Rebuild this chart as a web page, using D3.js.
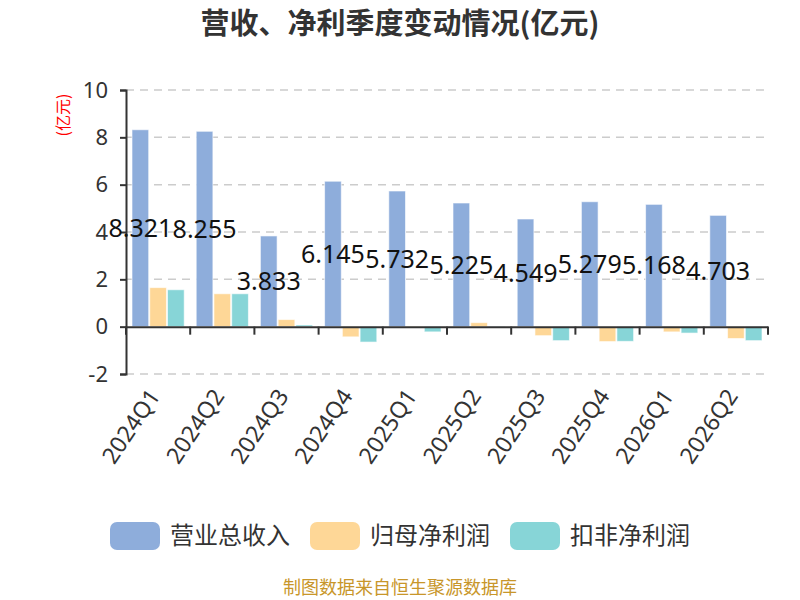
<!DOCTYPE html>
<html>
<head>
<meta charset="utf-8">
<script src="https://cdn.jsdelivr.net/npm/d3@7"></script>
<style>
  body { margin: 0; background: #fff; }
  text { font-family: "Noto Sans CJK SC", "Noto Sans", sans-serif; }
</style>
</head>
<body>
<div id="chart"></div>
<script>
// data
const quarters = ["2024Q1", "2024Q2", "2024Q3", "2024Q4", "2025Q1", "2025Q2", "2025Q3", "2025Q4", "2026Q1", "2026Q2"];
const revenue = [8.321, 8.255, 3.833, 6.145, 5.732, 5.225, 4.549, 5.279, 5.168, 4.703];
const netProfit = [1.65, 1.39, 0.30, -0.43, -0.02, 0.17, -0.38, -0.63, -0.22, -0.50];
const netProfitExcl = [1.56, 1.39, 0.07, -0.65, -0.22, -0.03, -0.59, -0.62, -0.27, -0.59];
const seriesNames = ["营业总收入", "归母净利润", "扣非净利润"];
const colors = ["#8eaddb", "#fed797", "#87d5d7"];
const yTicks = [-2, 0, 2, 4, 6, 8, 10];

const W = 800, H = 600;
const margin = {top: 90, right: 32, bottom: 226, left: 126};
const width = W - margin.left - margin.right,
    height = H - margin.top - margin.bottom;

const svg = d3.select("#chart")
  .append("svg")
  .attr("width", W)
  .attr("height", H);

const g = svg.append("g")
  .attr("transform", `translate(${margin.left},${margin.top})`);

// Title
svg.append("text")
  .attr("x", W / 2)
  .attr("y", 34)
  .attr("text-anchor", "middle")
  .style("font-size", "29px")
  .style("font-weight", "bold")
  .style("fill", "#333")
  .text("营收、净利季度变动情况(亿元)");

// Scales
const x = d3.scaleBand().domain(quarters).range([0, width]);
const inner = d3.scaleBand().domain(d3.range(3)).range([6, x.bandwidth() - 6]).paddingInner(0.06);
const y = d3.scaleLinear().domain([-2, 10]).range([height, 0]);

// Grid
g.append("g")
  .selectAll("line")
  .data(yTicks.filter(d => d !== 0))
  .join("line")
    .attr("x1", 0)
    .attr("x2", width)
    .attr("y1", d => y(d))
    .attr("y2", d => y(d))
    .attr("stroke", "#ccc")
    .attr("stroke-width", 1.5)
    .attr("stroke-dasharray", "8,6");

// Y axis (plain hyphen for the minus sign)
const yAxis = g.append("g")
  .call(d3.axisLeft(y).tickValues(yTicks).tickFormat(d => String(d)).tickSize(6).tickPadding(12));
yAxis.select(".domain").attr("stroke", "#333").attr("stroke-width", 2);
yAxis.selectAll(".tick line").attr("stroke", "#333").attr("stroke-width", 2);
yAxis.selectAll(".tick text")
  .style("font-size", "22px")
  .style("fill", "#333")
  .style("font-family", "'Noto Sans', sans-serif");

// Y axis name
svg.append("text")
  .attr("transform", `translate(69,115) rotate(-90)`)
  .attr("text-anchor", "middle")
  .style("font-size", "16px")
  .style("fill", "red")
  .text("(亿元)");

// Bars
const table = quarters.map((q, i) => ({q: q, vals: [revenue[i], netProfit[i], netProfitExcl[i]]}));

const groups = g.append("g")
  .selectAll("g")
  .data(table)
  .join("g")
    .attr("transform", d => `translate(${x(d.q)},0)`);

groups.selectAll("rect")
  .data(d => d.vals)
  .join("rect")
    .attr("x", (d, i) => inner(i))
    .attr("width", inner.bandwidth())
    .attr("y", d => y(Math.max(0, d)))
    .attr("height", d => Math.abs(y(d) - y(0)))
    .attr("fill", (d, i) => colors[i])
    .attr("stroke", "rgba(255,255,255,0.6)")
    .attr("stroke-width", 1);

// X axis at zero
const xAxis = g.append("g")
  .attr("transform", `translate(0,${y(0)})`)
  .call(d3.axisBottom(x).tickSize(0).tickFormat(""));
xAxis.select(".domain").attr("stroke", "#333").attr("stroke-width", 2);

g.append("g")
  .selectAll("line")
  .data(d3.range(quarters.length + 1))
  .join("line")
    .attr("x1", i => i * x.step())
    .attr("x2", i => i * x.step())
    .attr("y1", y(0))
    .attr("y2", y(0) + 8)
    .attr("stroke", "#333")
    .attr("stroke-width", 2);

// X labels (rotated)
g.append("g")
  .selectAll("text")
  .data(quarters)
  .join("text")
    .attr("transform", d => `translate(${x(d) + x.bandwidth() / 2 + 3},${height + 22}) rotate(-56)`)
    .attr("text-anchor", "end")
    .style("font-size", "23px")
    .style("fill", "#333")
    .style("font-family", "'Noto Sans', sans-serif")
    .text(d => d);

// Revenue value labels, centred in the bar
groups.append("text")
  .attr("x", inner(0) + inner.bandwidth() / 2)
  .attr("y", d => y(d.vals[0] / 2))
  .attr("dy", "0.35em")
  .attr("text-anchor", "middle")
  .style("font-size", "25px")
  .style("fill", "#111")
  .style("font-family", "'Noto Sans', sans-serif")
  .text(d => d.vals[0]);

// Legend
const legendX = [110, 310, 510];
const legend = svg.append("g")
  .selectAll("g")
  .data(seriesNames)
  .join("g")
    .attr("transform", (d, i) => `translate(${legendX[i]},522)`);

legend.append("rect")
  .attr("width", 50)
  .attr("height", 28)
  .attr("rx", 7)
  .attr("fill", (d, i) => colors[i]);

legend.append("text")
  .attr("x", 60)
  .attr("y", 14)
  .attr("dy", "0.35em")
  .style("font-size", "24px")
  .style("fill", "#333")
  .text(d => d);

// Footer
svg.append("text")
  .attr("x", W / 2)
  .attr("y", 594)
  .attr("text-anchor", "middle")
  .style("font-size", "18px")
  .style("fill", "#c8962a")
  .text("制图数据来自恒生聚源数据库");
</script>
</body>
</html>
